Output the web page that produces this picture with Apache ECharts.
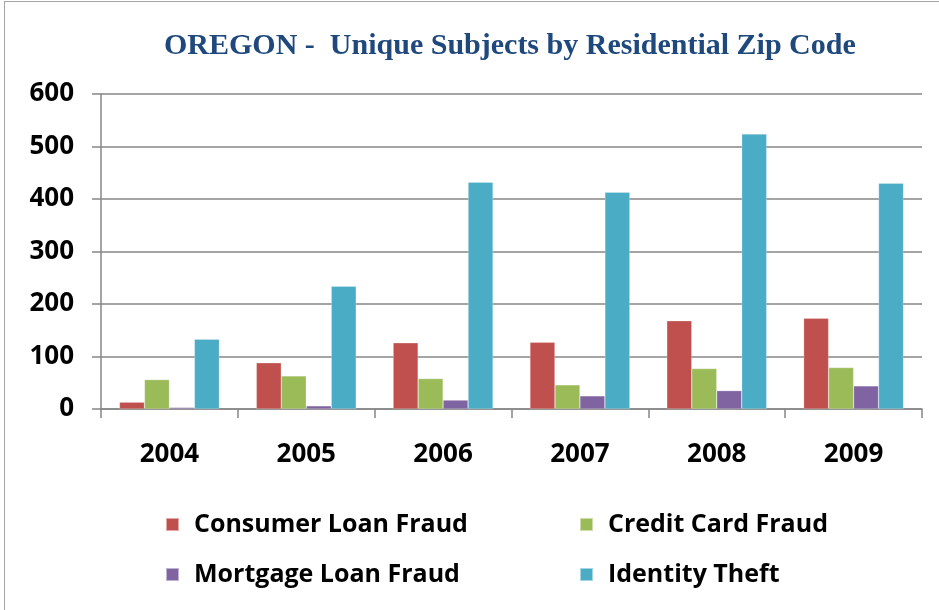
<!DOCTYPE html>
<html>
<head>
<meta charset="utf-8">
<script src="https://cdn.jsdelivr.net/npm/echarts@6/dist/echarts.min.js"></script>
<style>
  html, body { margin: 0; padding: 0; background: #fff; }
  #chart_example {
    position: absolute; left: 4px; top: 1px;
    width: 940px; height: 620px;
    border: 1.5px solid #a6a6a6;
    box-sizing: border-box;
  }
</style>
</head>
<body>
<div id="chart_example"></div>
<script>
// 数据
var years = ['2004', '2005', '2006', '2007', '2008', '2009'];
var seriesNames = ['Consumer Loan Fraud', 'Credit Card Fraud', 'Mortgage Loan Fraud', 'Identity Theft'];
var consumerLoan = [13, 88, 126, 127, 168, 173];
var creditCard = [56, 63, 58, 46, 77, 79];
var mortgageLoan = [3, 6, 17, 25, 35, 44];
var identityTheft = [133, 234, 432, 413, 524, 430];
var yTicks = [0, 100, 200, 300, 400, 500, 600];
var colors = ['#C0504D', '#9BBB59', '#8064A2', '#4BACC6'];

var allData = [consumerLoan, creditCard, mortgageLoan, identityTheft];
var labelFont = 'Open Sans, Liberation Sans, sans-serif';

// 图例位置 (两列两行)
var legendPos = [[155, 505], [569, 505], [155, 555], [569, 555]];
var legends = seriesNames.map(function (n, i) {
  return {
    data: [n],
    left: legendPos[i][0],
    top: legendPos[i][1],
    itemWidth: 13,
    itemHeight: 13,
    itemGap: 0,
    icon: 'rect',
    textStyle: { fontSize: 25, fontWeight: 'bold', color: '#000', fontFamily: labelFont, padding: [0, 0, 0, 10] }
  };
});

var option1 = {
  backgroundColor: '#fff',
  animation: false,
  color: colors,
  title: {
    text: 'OREGON -  Unique Subjects by Residential Zip Code',
    left: 154,
    top: 24,
    textStyle: {
      color: '#1F497D',
      fontSize: 30,
      fontWeight: 'bold',
      fontFamily: 'Liberation Serif, serif'
    }
  },
  legend: legends,
  grid: { left: 96, right: 21, top: 92, bottom: 211, containLabel: false },
  xAxis: [{
    type: 'category',
    data: years,
    axisLine: { lineStyle: { color: '#868686', width: 1.5 } },
    axisTick: { show: true, length: 9, lineStyle: { color: '#868686', width: 1.5 } },
    axisLabel: { fontSize: 26, fontWeight: 'bold', color: '#000', fontFamily: labelFont, margin: 33 }
  }],
  yAxis: [{
    type: 'value',
    min: yTicks[0],
    max: yTicks[yTicks.length - 1],
    interval: 100,
    axisLine: { show: true, lineStyle: { color: '#868686', width: 1.5 } },
    axisTick: { show: true, length: 9, lineStyle: { color: '#868686', width: 1.5 } },
    splitLine: { lineStyle: { color: '#868686', width: 1.5 } },
    axisLabel: { fontSize: 26, fontWeight: 'bold', color: '#000', fontFamily: labelFont, margin: 27 }
  }],
  series: seriesNames.map(function (n, i) {
    return {
      name: n,
      type: 'bar',
      data: allData[i],
      barGap: '0%',
      barCategoryGap: '27%',
      itemStyle: { color: colors[i], borderColor: 'rgba(255,255,255,0.5)', borderWidth: 0.5 }
    };
  })
};

var myChart = echarts.init(document.getElementById('chart_example'));
myChart.setOption(option1);
window.addEventListener('resize', function () { myChart.resize(); });
</script>
</body>
</html>
